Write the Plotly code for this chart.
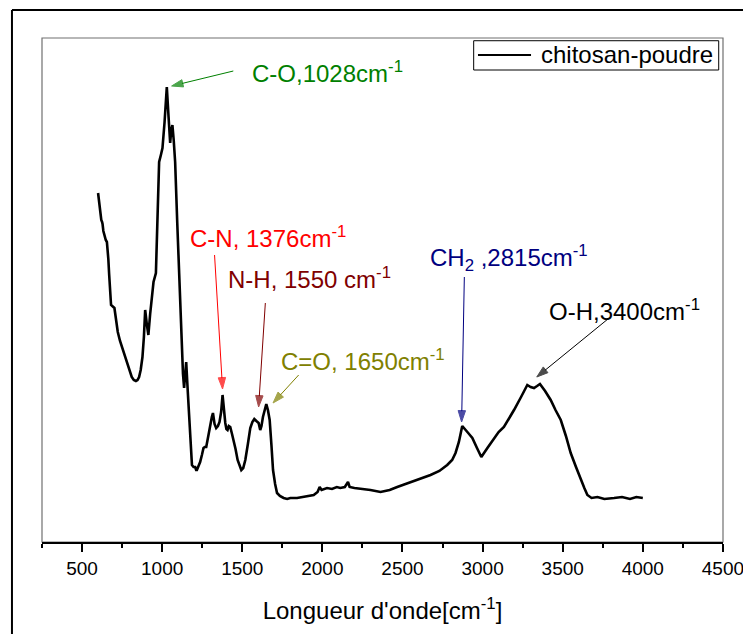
import plotly.graph_objects as go

# FTIR spectrum of chitosan powder (transmittance, arbitrary units)
wavenumber = [
    600, 607, 612, 617, 620, 625, 628, 633, 640, 648, 655, 660, 664, 669,
    681, 702, 712, 723, 737, 752, 770, 789, 800, 810, 823, 836, 846, 856,
    866, 877, 886, 894, 904, 914, 925, 936, 946, 961, 971, 981, 992, 1002,
    1015, 1029, 1040, 1050, 1057, 1064, 1072, 1081, 1094, 1106, 1115, 1123,
    1130, 1137, 1144, 1150, 1160, 1169, 1178, 1186, 1196, 1206, 1212, 1217,
    1227, 1237, 1248, 1258, 1266, 1275, 1288, 1300, 1310, 1317, 1327, 1337,
    1348, 1358, 1368, 1377, 1386, 1394, 1401, 1408, 1416, 1425, 1436, 1446,
    1458, 1471, 1483, 1494, 1506, 1519, 1535, 1550, 1563, 1575, 1588, 1602,
    1612, 1620, 1629, 1640, 1650, 1660, 1671, 1682, 1692, 1705, 1717, 1735,
    1758, 1780, 1800, 1842, 1880, 1920, 1946, 1970, 1983, 1995, 2029, 2060,
    2090, 2112, 2140, 2160, 2170, 2200, 2258, 2300, 2363, 2420, 2467, 2520,
    2571, 2620, 2675, 2730, 2779, 2810, 2831, 2852, 2873, 2905, 2936, 2965,
    2992, 3030, 3071, 3100, 3133, 3165, 3196, 3240, 3279, 3300, 3321, 3340,
    3358, 3390, 3425, 3455, 3488, 3520, 3550, 3583, 3613, 3635, 3654, 3680,
    3717, 3760, 3821, 3870, 3920, 3960, 4000,
]
transmittance = [
    349, 338, 328, 327, 322, 320, 318, 311, 306, 302, 300, 292, 283, 268,
    237, 234, 222, 210, 201, 194, 184, 175, 170, 165, 162, 161, 162, 165,
    172, 185, 205, 232, 218, 207, 228, 245, 260, 269, 330, 380, 387, 394,
    420, 455, 425, 399, 412, 417, 402, 380, 320, 267, 225, 189, 168, 154,
    165, 180, 150, 122, 97, 77, 75, 75, 72, 72, 76, 80, 87, 94, 95, 95,
    106, 119, 125, 129, 118, 114, 116, 120, 130, 147, 130, 119, 113, 112,
    116, 115, 108, 102, 93, 82, 76, 72, 74, 82, 98, 114, 120, 123, 121, 119,
    112, 116, 125, 133, 138, 132, 122, 97, 72, 58, 49, 46,
    44, 43, 44, 44, 45, 46, 47, 50, 55, 52, 54, 53,
    55, 54, 55, 60, 55, 54, 53, 52, 50, 52, 55, 58,
    61, 64, 67, 71, 77, 82, 89, 100, 116, 110, 104, 94,
    85, 94, 104, 110, 115, 123, 132, 145, 157, 155, 154, 156,
    158, 151, 142, 132, 122, 106, 89, 75, 62, 54, 47, 44,
    45, 43, 44, 45, 43, 45, 44,
]

series_name = "chitosan-poudre"
x_tick_values = [500, 1000, 1500, 2000, 2500, 3000, 3500, 4000, 4500]
x_axis_title = "Longueur d'onde[cm<sup>-1</sup>]"

# Band assignments: label, arrow tail (x, y), arrow tip (x, y), label anchor (x, y)
band_labels = [
    "C-O,1028cm<sup>-1</sup>",
    "C-N, 1376cm<sup>-1</sup>",
    "N-H, 1550 cm<sup>-1</sup>",
    "C=O, 1650cm<sup>-1</sup>",
    "CH<sub>2</sub> ,2815cm<sup>-1</sup>",
    "O-H,3400cm<sup>-1</sup>",
]
band_colors = ["#008000", "#FF0000", "#800000", "#808000", "#000080", "#000000"]
arrow_tail_x = [1444, 1327, 1644, 1852, 2886, 3790]
arrow_tail_y = [471, 287, 239, 167, 265, 224]
arrow_tip_x = [1059, 1377, 1602, 1692, 2869, 3338]
arrow_tip_y = [456, 153, 135, 139, 120, 165]
label_x = [1546, 1164, 1400, 1731, 2662, 3400]
label_y = [470, 305, 264, 182, 284, 232]

FONT = "Arial, Liberation Sans, sans-serif"

fig = go.Figure()
fig.add_trace(go.Scatter(
    x=wavenumber, y=transmittance, mode="lines", name=series_name,
    line=dict(color="black", width=2.6), showlegend=False,
))

# Annotation arrows: thin shaft with a filled head oriented along the shaft
for col, tx, ty, hx, hy in zip(band_colors, arrow_tail_x, arrow_tail_y,
                               arrow_tip_x, arrow_tip_y):
    fig.add_trace(go.Scatter(
        x=[tx, hx], y=[ty, hy], mode="lines+markers",
        line=dict(color=col, width=1),
        marker=dict(symbol="arrow", size=[0, 12], angleref="previous",
                    color=col, line=dict(width=1, color=col)),
        showlegend=False, hoverinfo="skip",
    ))

annotations = []
for lab, col, lx, ly in zip(band_labels, band_colors, label_x, label_y):
    annotations.append(dict(
        x=lx, y=ly, xref="x", yref="y", text=lab, showarrow=False,
        xanchor="left", yanchor="middle",
        font=dict(family=FONT, size=24, color=col),
    ))

# Legend entry
annotations.append(dict(
    x=0.7298, y=0.9663, xref="paper", yref="paper", text=series_name,
    showarrow=False, xanchor="left", yanchor="middle",
    font=dict(family=FONT, size=24, color="black"),
))

shapes = [
    # plot frame
    dict(type="rect", xref="paper", yref="paper", x0=0, x1=1, y0=0, y1=1,
         line=dict(color="#707070", width=1.2), layer="below"),
    # outer frame edges
    dict(type="line", xref="paper", yref="paper", x0=-0.0441, x1=1.05,
         y0=1.0556, y1=1.0556, line=dict(color="black", width=2)),
    dict(type="line", xref="paper", yref="paper", x0=-0.0441, x1=-0.0441,
         y0=-0.2, y1=1.0556, line=dict(color="black", width=2)),
    # legend box and sample line
    dict(type="rect", xref="paper", yref="paper", x0=0.6339, x1=0.9937,
         y0=0.9365, y1=0.9946, line=dict(color="black", width=1),
         fillcolor="white"),
    dict(type="line", xref="paper", yref="paper", x0=0.6402, x1=0.7181,
         y0=0.9663, y1=0.9663, line=dict(color="black", width=2.2)),
]

fig.update_layout(
    width=743, height=634,
    margin=dict(l=42, r=20, t=38, b=92, autoexpand=False),
    paper_bgcolor="white", plot_bgcolor="white",
    font=dict(family=FONT, color="black"),
    annotations=annotations, shapes=shapes,
    xaxis=dict(
        range=[250, 4500.5], tickvals=x_tick_values, automargin=False,
        ticks="outside", ticklen=8, tickwidth=1.5, tickcolor="black",
        minor=dict(dtick=250, tick0=0, ticks="outside", ticklen=4,
                   tickwidth=1.5, tickcolor="black"),
        showline=True, linecolor="black", linewidth=2,
        showgrid=False, zeroline=False, ticklabeloverflow="allow",
        tickfont=dict(family=FONT, size=19, color="black"),
        title=dict(text=x_axis_title, standoff=24,
                   font=dict(family=FONT, size=24, color="black")),
    ),
    yaxis=dict(
        range=[0, 504], showticklabels=False, ticks="", showline=False,
        showgrid=False, zeroline=False, automargin=False,
    ),
)

fig.write_html("out.html")
